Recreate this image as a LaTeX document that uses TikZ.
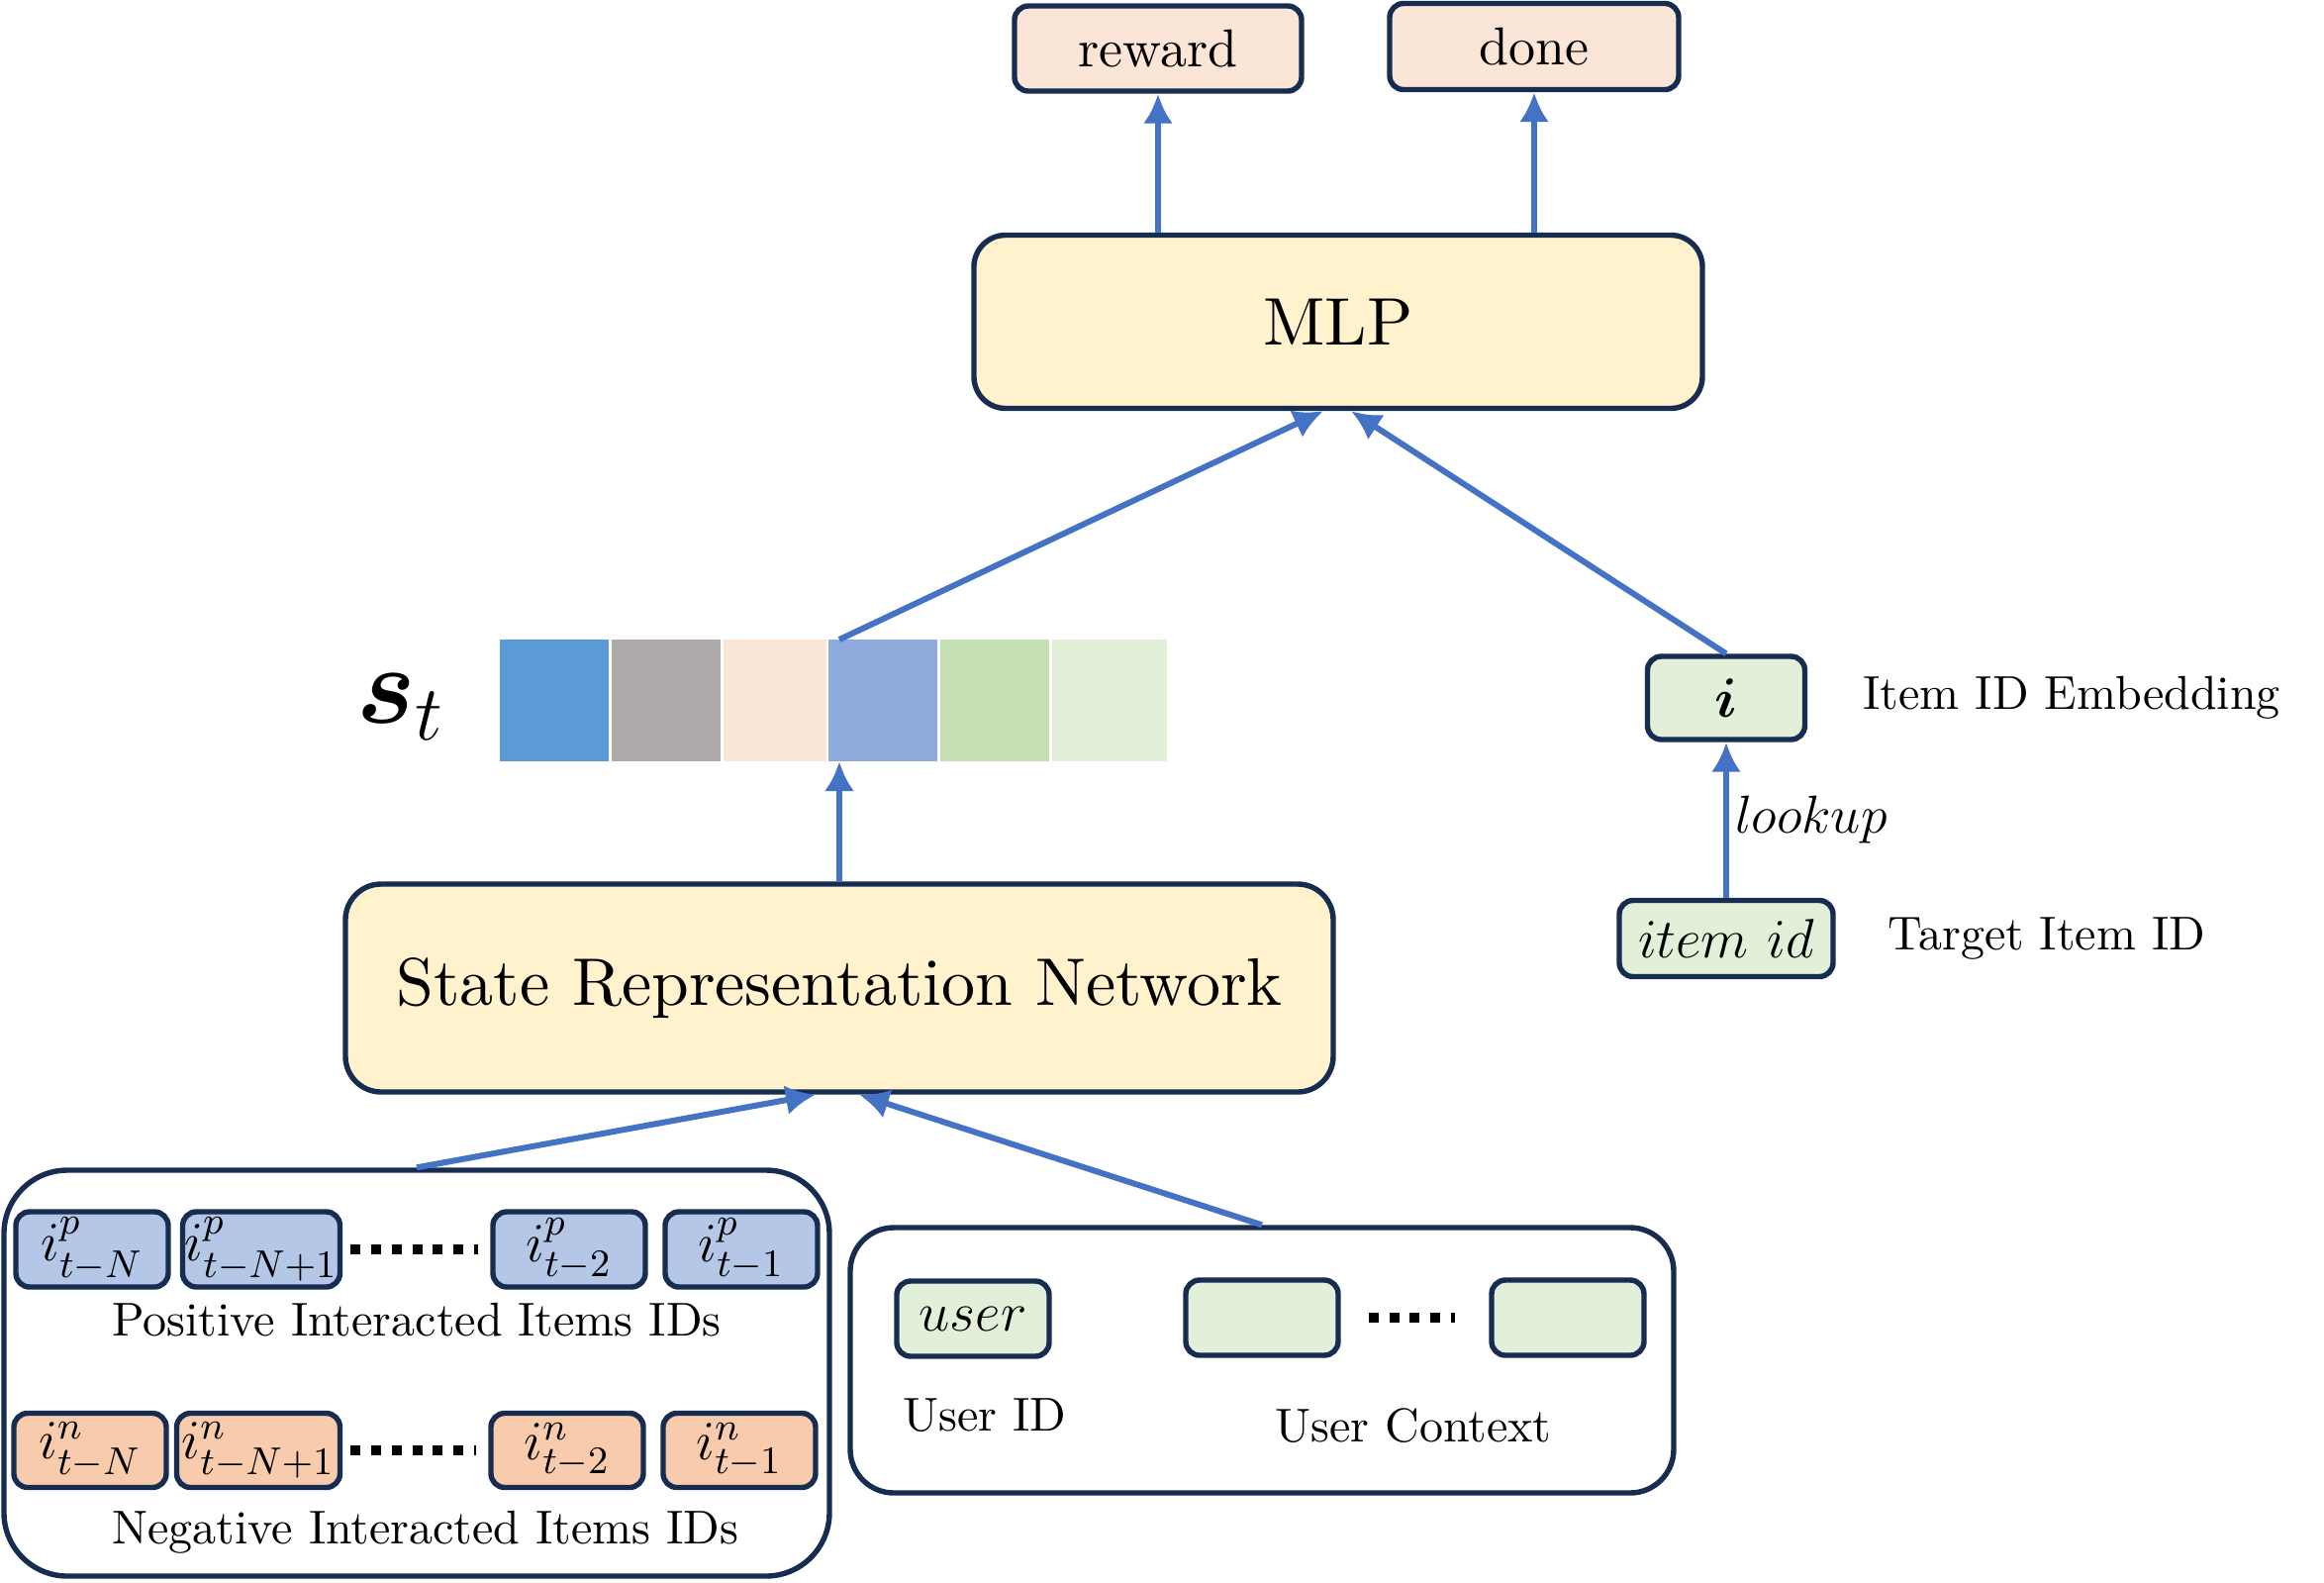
\RequirePackage{fix-cm}
\documentclass[tikz,border=0pt]{standalone}
\usepackage{amsmath}
\usepackage{fontspec}
\setmainfont{lmroman10-regular.otf}[ItalicFont=lmroman10-italic.otf, BoldFont=lmroman10-bold.otf]
\usetikzlibrary{arrows.meta,positioning,calc}

\definecolor{navy}{HTML}{172C51}
\definecolor{lineblue}{HTML}{4472C4}
\definecolor{yelfill}{HTML}{FFF2CC}
\definecolor{peach}{HTML}{FBE5D6}
\definecolor{mint}{HTML}{E2F0D9}
\definecolor{posfill}{HTML}{B4C7E7}
\definecolor{negfill}{HTML}{F8CBAD}
\definecolor{cola}{HTML}{5B9BD5}
\definecolor{colb}{HTML}{AEAAAA}
\definecolor{cold}{HTML}{8FAADC}
\definecolor{cole}{HTML}{C5E0B4}

\begin{document}
\begin{tikzpicture}[x=0.25pt,y=-0.25pt,
	box/.style={draw=navy, line width=1.35pt, rounded corners=3.5pt, inner sep=0pt},
	small/.style={box, minimum width=38.5pt, minimum height=19pt, font=\fontsize{14}{16}\selectfont},
	big/.style={box, rounded corners=8pt, fill=yelfill, font=\fontsize{17}{20}\selectfont},
	group/.style={draw=navy, line width=1.35pt, inner sep=0pt},
	cell/.style={inner sep=0pt, outer sep=0pt, minimum height=30.75pt, minimum width=27.5pt},
	lbl/.style={inner sep=0pt, font=\fontsize{12}{14}\selectfont},
	flow/.style={draw=lineblue, line width=1.5pt, -{Latex[length=7.5pt,width=7.5pt]}},
	dots/.style={line width=2.5pt, dash pattern=on 2.5pt off 2.7pt},
	node distance=0.7pt]

	\useasboundingbox (0,0) rectangle (2348,1598);

	\node[group, rounded corners=16pt, minimum width=208.5pt, minimum height=102.5pt] (hist) at (421,1387) {};
	\node[group, rounded corners=11pt, minimum width=208pt, minimum height=67pt] (ctx) at (1275,1374) {};

	\node[box, fill=peach, minimum width=72.5pt, minimum height=21.5pt, font=\fontsize{13.5}{16}\selectfont] (rew) at (1170,49) {reward};
	\node[box, fill=peach, minimum width=73pt, minimum height=21.75pt, font=\fontsize{13.5}{16}\selectfont] (done) at (1550,47) {done};
	\node[big, minimum width=184pt, minimum height=43.75pt] (mlp) at (1352,325) {MLP};
	\node[big, rounded corners=9pt, minimum width=249.5pt, minimum height=52.5pt] (srn) at (848,998) {State Representation Network};

	\node[inner sep=0pt, font=\fontsize{28}{32}\selectfont] (st) at (405,714) {$\boldsymbol{s}_t$};
	\node[cell, fill=cola] (c1) at (560,707.5) {};
	\node[cell, fill=colb, right=of c1] (c2) {};
	\node[cell, fill=peach, right=of c2, minimum width=26pt] (c3) {};
	\node[cell, fill=cold, right=of c3] (c4) {};
	\node[cell, fill=cole, right=of c4] (c5) {};
	\node[cell, fill=mint, right=of c5, minimum width=29pt] (c6) {};

	\node[small, fill=mint, minimum width=39.75pt, minimum height=21pt] (emb) at (1744,705) {$\boldsymbol{i}$};
	\node[lbl, right=13.9pt of emb] (embl) {Item ID Embedding};
	\node[small, fill=mint, minimum width=54pt, minimum height=19.25pt] (itemid) at (1744,948) {$item\ id$};
	\node[lbl, right=13pt of itemid] (itemidl) {Target Item ID};

	\node[small, fill=posfill] (p1) at (93,1262) {$i^{p}_{t-N}$};
	\node[small, fill=posfill, minimum width=39.75pt] (p2) at (264,1262) {$i^{p}_{t-N+1}$};
	\node[small, fill=posfill] (p3) at (575,1262) {$i^{p}_{t-2}$};
	\node[small, fill=posfill] (p4) at (749,1262) {$i^{p}_{t-1}$};
	\node[lbl] (posl) at (421,1333) {Positive Interacted Items IDs};

	\node[small, fill=negfill, minimum height=18.75pt] (n1) at (91,1465) {$i^{n}_{t-N}$};
	\node[small, fill=negfill, minimum height=18.75pt, minimum width=41.25pt] (n2) at (261,1465) {$i^{n}_{t-N+1}$};
	\node[small, fill=negfill, minimum height=18.75pt] (n3) at (573,1465) {$i^{n}_{t-2}$};
	\node[small, fill=negfill, minimum height=18.75pt] (n4) at (747,1465) {$i^{n}_{t-1}$};
	\node[lbl] (negl) at (430,1548) {Negative Interacted Items IDs};

	\node[small, fill=mint] (user) at (983,1332) {$user$};
	\node[small, fill=mint] (u1) at (1275,1331) {};
	\node[small, fill=mint] (u2) at (1584,1331) {};
	\node[lbl] (userl) at (995,1430) {User ID};
	\node[lbl] (ctxl) at (1428,1440) {User Context};

	\draw[dots] ([xshift=2pt]p2.east) -- ([xshift=-3pt]p3.west);
	\draw[dots] ([xshift=2pt]n2.east) -- ([xshift=-3pt]n3.west);
	\draw[dots] ([xshift=7pt]u1.east) -- ([xshift=-8.5pt]u2.west);

	\draw[flow] (mlp.north -| rew.south) -- (rew.south);
	\draw[flow] (mlp.north -| done.south) -- (done.south);
	\draw[flow] (c4.north -| srn.north) -- ($(mlp.south)+(-15,0)$);
	\draw[flow] (emb.north) -- ($(mlp.south)+(13,0)$);
	\draw[flow] (srn.north) -- (c4.south -| srn.north);
	\draw[flow] (hist.north) -- ($(srn.south)+(-24,0)$);
	\draw[flow] (ctx.north) -- ($(srn.south)+(20,0)$);
	\draw[flow] (itemid.north) -- node[right, inner sep=1.5pt, font=\fontsize{13.5}{16}\selectfont] (look) {$lookup$} (emb.south);
\end{tikzpicture}
\end{document}
